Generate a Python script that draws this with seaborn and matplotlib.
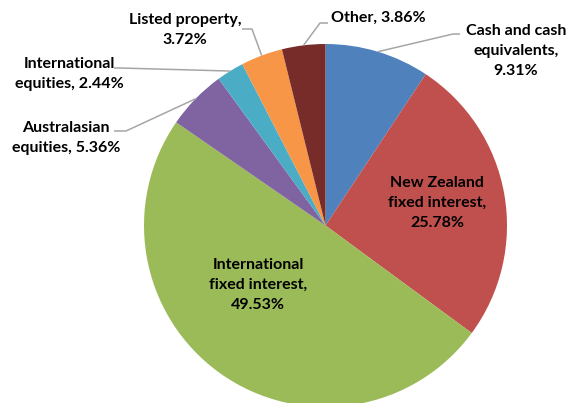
import matplotlib
matplotlib.use("Agg")
import matplotlib.pyplot as plt
import seaborn as sns
import numpy as np
import textwrap

# data
categories = ["Cash and cash equivalents", "New Zealand fixed interest", "International fixed interest",
              "Australasian equities", "International equities", "Listed property", "Other"]
shares = [9.31, 25.78, 49.53, 5.36, 2.44, 3.72, 3.86]
slice_colors = ["#4F81BD", "#C0504D", "#9BBB59", "#8064A2", "#4BACC6", "#F79646", "#772C2A"]

sns.set_theme(style="white")
plt.rcParams['font.family'] = ['Lato', 'DejaVu Sans']

W, H = 568, 403
fig = plt.figure(figsize=(W / 100, H / 100), dpi=100)
ax = fig.add_axes([0, 0, 1, 1])

# pixel coords, y measured from the top
def py(y):
    return H - y

cx, cy, r = 325.5, 225.5, 181.5
wedges, _ = ax.pie(shares, colors=sns.color_palette(slice_colors), startangle=90, counterclock=False,
                   radius=r, center=(cx, py(cy)), wedgeprops=dict(linewidth=0))
ax.set_xlim(0, W)
ax.set_ylim(0, H)
ax.set_aspect('equal')
ax.axis('off')

# (text x, text y) in pixels; elbow points for leader lines (None = inside)
layout = [
    (516, 51, [(453, 34), (460, 34)]),
    (437, 203, None),
    (258, 285, None),
    (66, 138, [(126, 131), (114, 131)]),
    (69, 74, [(120, 68), (114, 68)]),
    (185, 30, [(252, 29), (242, 29)]),
    (378, 18, [(320, 23), (328, 23)]),
]

for i, (tx, ty, elbow) in enumerate(layout):
    txt = textwrap.fill("%s, %.2f%%" % (categories[i], shares[i]), 16)
    ax.text(tx, py(ty), txt, ha='center', va='center', fontsize=11.5, fontweight='bold',
            color='black', linespacing=1.55)
    if elbow is not None:
        w = wedges[i]
        mid = np.deg2rad((w.theta1 + w.theta2) / 2)
        x0 = cx + r * np.cos(mid)
        y0 = py(cy) + r * np.sin(mid)
        xs = [x0] + [p[0] for p in elbow]
        ys = [y0] + [py(p[1]) for p in elbow]
        ax.plot(xs, ys, color='#A6A6A6', lw=1.1, solid_capstyle='butt')

fig.savefig('out.png', dpi=100)
